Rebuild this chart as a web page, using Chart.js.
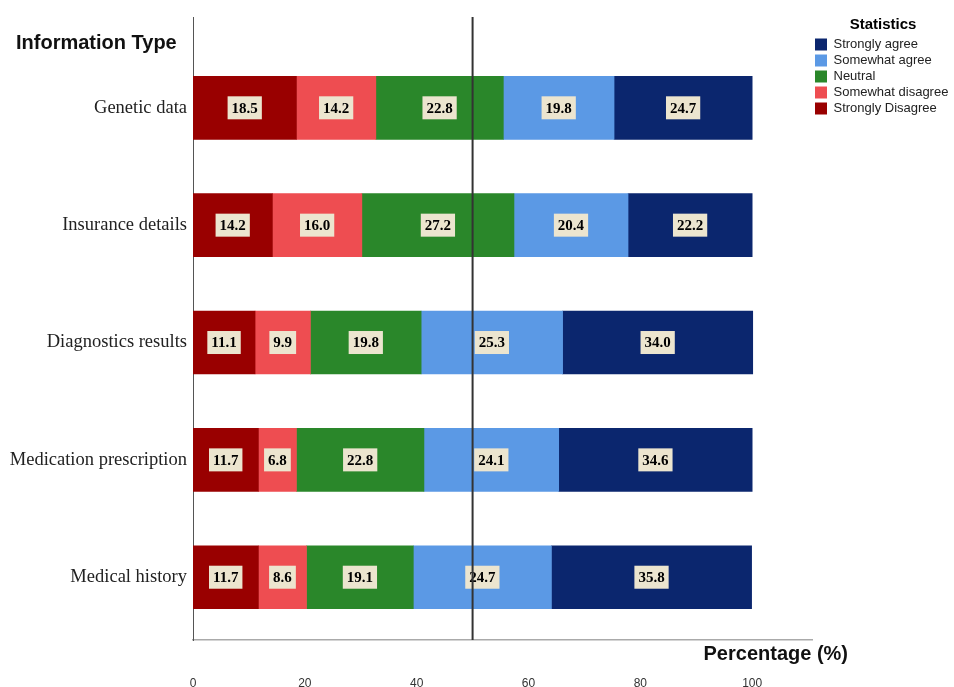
<!DOCTYPE html>
<html>
<head>
<meta charset="utf-8">
<script src="https://cdn.jsdelivr.net/npm/chart.js@4"></script>
<style>
  html, body { margin: 0; padding: 0; background: #fff; }
  #wrap { width: 954px; height: 687px; }
</style>
</head>
<body>
<div id="wrap"><canvas id="likert"></canvas></div>
<script>
// categories top to bottom
var categories = ["Genetic data", "Insurance details", "Diagnostics results", "Medication prescription", "Medical history"];
var strongDisagree = [18.5, 14.2, 11.1, 11.7, 11.7];
var someDisagree   = [14.2, 16.0, 9.9, 6.8, 8.6];
var neutral        = [22.8, 27.2, 19.8, 22.8, 19.1];
var someAgree      = [19.8, 20.4, 25.3, 24.1, 24.7];
var strongAgree    = [24.7, 22.2, 34.0, 34.6, 35.8];
var xTicks = [0, 20, 40, 60, 80, 100];
var refValue = 50;

function toPoints(arr){
  return arr.map((v, i) => ({x: v, y: i}));
}

const extras = {
  id: 'extras',
  afterDatasetsDraw: (chart) => {
    const {ctx} = chart;
    ctx.save();
    ctx.font = 'bold 15px "Liberation Serif", serif';
    ctx.textAlign = 'center';
    ctx.textBaseline = 'middle';
    chart.data.datasets.forEach((ds, di) => {
      chart.getDatasetMeta(di).data.forEach((bar, i) => {
        var cx = (bar.x + bar.base) / 2;
        var txt = ds.data[i].x.toFixed(1);
        var w = ctx.measureText(txt).width + 8;
        ctx.fillStyle = '#ece5cf';
        ctx.fillRect(cx - w / 2, bar.y - 11.5, w, 23);
        ctx.fillStyle = '#000';
        ctx.fillText(txt, cx, bar.y + 1);
      });
    });
    ctx.restore();
  },
  afterDraw: (chart) => {
    const {ctx, chartArea} = chart;
    var xs = chart.scales.x;
    ctx.save();
    // reference line at 50%
    var px = xs.getPixelForValue(refValue);
    ctx.strokeStyle = '#333';
    ctx.lineWidth = 2;
    ctx.beginPath();
    ctx.moveTo(px, chartArea.top);
    ctx.lineTo(px, chartArea.bottom);
    ctx.stroke();
    // axis titles
    ctx.fillStyle = '#111';
    ctx.font = 'bold 20px "Liberation Sans", Arial, sans-serif';
    ctx.textBaseline = 'middle';
    ctx.textAlign = 'left';
    ctx.fillText('Information Type', 16, 43);
    ctx.textAlign = 'right';
    ctx.fillText('Percentage (%)', chartArea.right + 36, 654);
    ctx.restore();
  }
};

new Chart(document.getElementById("likert"), {
  type: "bar",
  data: {
    datasets: [
      {label: "Strongly Disagree", data: toPoints(strongDisagree), backgroundColor: "#990000"},
      {label: "Somewhat disagree", data: toPoints(someDisagree), backgroundColor: "#ee4d51"},
      {label: "Neutral", data: toPoints(neutral), backgroundColor: "#2a872a"},
      {label: "Somewhat agree", data: toPoints(someAgree), backgroundColor: "#5b99e5"},
      {label: "Strongly agree", data: toPoints(strongAgree), backgroundColor: "#0b266e"}
    ]
  },
  options: {
    indexAxis: 'y',
    responsive: true,
    maintainAspectRatio: false,
    animation: false,
    barThickness: 63,
    layout: {padding: {top: 14, right: 0, bottom: 0, left: 0}},
    plugins: {
      tooltip: {enabled: false},
      legend: {
        position: 'right',
        align: 'start',
        reverse: true,
        maxWidth: 142,
        title: {
          display: true,
          text: 'Statistics',
          color: '#000',
          padding: {top: 3, bottom: 0},
          font: {family: '"Liberation Sans", Arial, sans-serif', size: 15, weight: 'bold'}
        },
        labels: {
          boxWidth: 12,
          boxHeight: 12,
          padding: 3,
          color: '#222',
          font: {family: '"Liberation Sans", Arial, sans-serif', size: 13}
        }
      }
    },
    scales: {
      x: {
        type: 'linear',
        stacked: true,
        min: 0,
        max: 110.7,
        grid: {display: false, drawTicks: false},
        border: {display: true, color: '#aaa', width: 1.5},
        afterBuildTicks: (scale) => { scale.ticks = xTicks.map(v => ({value: v})); },
        afterFit: (scale) => { scale.height = 47; },
        ticks: {
          padding: 36,
          maxRotation: 0,
          color: '#333',
          font: {family: '"Liberation Sans", Arial, sans-serif', size: 12}
        }
      },
      y: {
        type: 'linear',
        stacked: true,
        reverse: true,
        offset: false,
        min: -0.773,
        max: 4.535,
        grid: {display: false, drawTicks: false},
        border: {display: true, color: '#555', width: 1},
        afterBuildTicks: (scale) => { scale.ticks = categories.map((c, i) => ({value: i})); },
        afterFit: (scale) => { scale.width = 193; },
        ticks: {
          padding: 6,
          color: '#222',
          font: {family: '"Liberation Serif", "Times New Roman", serif', size: 18.5},
          callback: (v) => categories[v]
        }
      }
    }
  },
  plugins: [extras]
});
</script>
</body>
</html>
